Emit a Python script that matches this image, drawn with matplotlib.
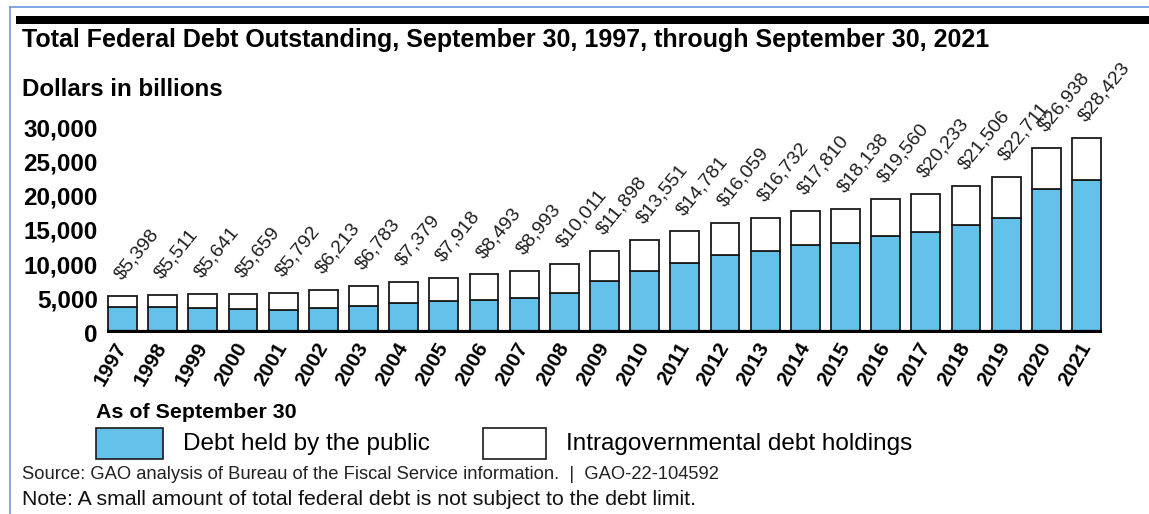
import numpy as np
import matplotlib.pyplot as plt
from matplotlib.patches import Rectangle
from matplotlib.lines import Line2D

plt.rcParams['font.family'] = ['Liberation Sans', 'DejaVu Sans']

years = [str(y) for y in range(1997, 2022)]
total_debt = [5398, 5511, 5641, 5659, 5792, 6213, 6783, 7379, 7918, 8493, 8993, 10011,
              11898, 13551, 14781, 16059, 16732, 17810, 18138, 19560, 20233, 21506,
              22711, 26938, 28423]
held_by_public = [3772, 3721, 3632, 3410, 3320, 3540, 3913, 4296, 4592, 4829, 5035, 5803,
                  7552, 9019, 10128, 11281, 11983, 12780, 13124, 14173, 14673, 15761,
                  16809, 21019, 22284]
y_ticks = [0, 5000, 10000, 15000, 20000, 25000, 30000]

blue = '#63c1ea'
edge = '#1a1a1a'

W, H = 1149, 514
fig = plt.figure(figsize=(W / 100, H / 100), dpi=100)

def fx(px):
    return px / W

def fy(py):
    return 1 - py / H

# plot area: baseline at y=332.5px, 30,000 at y=127.5px
ax = fig.add_axes([fx(107), fy(332.5), fx(1102) - fx(107), fy(127.5) - fy(332.5)])

x = np.arange(len(years))
intragov = np.array(total_debt) - np.array(held_by_public)
ax.bar(x, held_by_public, width=0.72, color=blue, edgecolor=edge, linewidth=1.3, zorder=2)
ax.bar(x, intragov, bottom=held_by_public, width=0.72, color='white',
       edgecolor=edge, linewidth=1.3, zorder=2)
ax.axhline(0, color='black', linewidth=4.5, zorder=3, solid_capstyle='butt')

# totals above each bar
for xi, tot in zip(x, total_debt):
    ax.text(xi + 0.06, tot + 1900, f'${tot:,}', rotation=51, rotation_mode='anchor',
            ha='left', va='bottom', fontsize=14, color='#1e1e1e', clip_on=False)

ax.set_xlim(-0.386, 24.386)
ax.set_ylim(0, 30000)
ax.set_yticks(y_ticks)
ax.set_yticklabels([f'{v:,}' for v in y_ticks], fontsize=17.5, fontweight='bold')
ax.set_xticks(x)
ax.set_xticklabels(years, rotation=60, ha='right', va='center', rotation_mode='anchor',
                   fontsize=15, fontweight='bold')
ax.tick_params(axis='y', length=0, pad=6.5)
ax.tick_params(axis='x', length=0, pad=8)
for s in ax.spines.values():
    s.set_visible(False)
ax.patch.set_alpha(0)

# header band and frame
fig.add_artist(Rectangle((fx(16), fy(24)), 1 - fx(16), fy(16) - fy(24),
                         transform=fig.transFigure, color='black', lw=0))
fig.add_artist(Line2D([fx(10), fx(10)], [0, fy(7)], transform=fig.transFigure,
                      color='#6a9be0', lw=1.2))
fig.add_artist(Line2D([fx(10), 1], [fy(7), fy(7)], transform=fig.transFigure,
                      color='#6a9be0', lw=1.2))

fig.text(fx(22), fy(47), 'Total Federal Debt Outstanding, September 30, 1997, through September 30, 2021',
         fontsize=18, fontweight='bold', va='baseline')
fig.text(fx(22), fy(96), 'Dollars in billions', fontsize=17.4, fontweight='bold', va='baseline')
fig.text(fx(96), fy(418), 'As of September 30', fontsize=15.4, fontweight='bold', va='baseline')

# legend
fig.add_artist(Rectangle((fx(96), fy(459)), fx(163) - fx(96), fy(428) - fy(459),
                         transform=fig.transFigure, facecolor=blue, edgecolor=edge, lw=1.2))
fig.text(fx(183), fy(450), 'Debt held by the public', fontsize=17.5, va='baseline')
fig.add_artist(Rectangle((fx(483), fy(459)), fx(546) - fx(483), fy(428) - fy(459),
                         transform=fig.transFigure, facecolor='white', edgecolor=edge, lw=1.2))
fig.text(fx(566), fy(450), 'Intragovernmental debt holdings', fontsize=17.5, va='baseline')

fig.text(fx(22), fy(479), 'Source: GAO analysis of Bureau of the Fiscal Service information.  |  GAO-22-104592',
         fontsize=13.2, color='#222222', va='baseline')
fig.text(fx(22), fy(505), 'Note: A small amount of total federal debt is not subject to the debt limit.',
         fontsize=15.3, color='#111111', va='baseline')

fig.savefig('out.png', dpi=100, facecolor='white')
